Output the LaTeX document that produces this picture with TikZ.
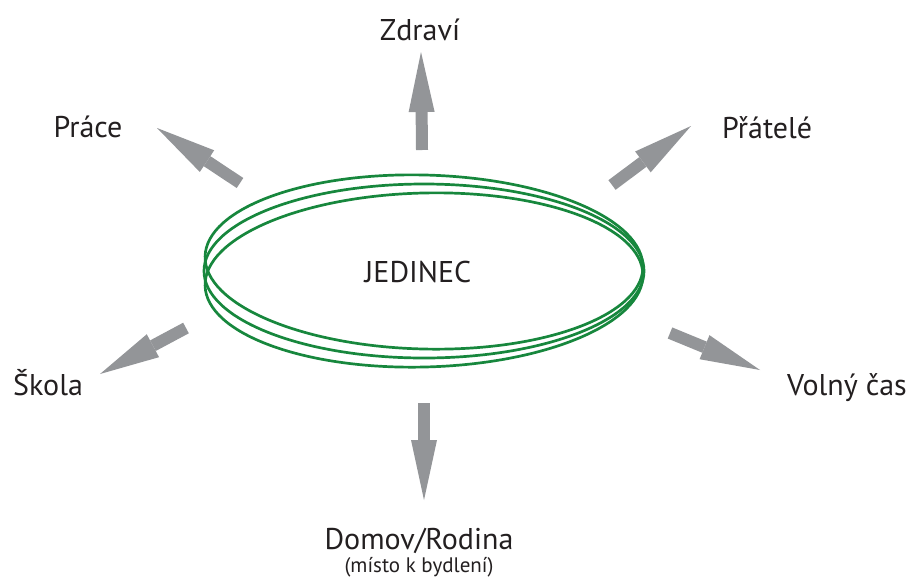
\documentclass[tikz,border=0pt]{standalone}
\usepackage{fontspec}
\setmainfont{PT Sans}
\usetikzlibrary{arrows.meta}
\definecolor{arrgray}{HTML}{939598}
\definecolor{ringgreen}{HTML}{17873D}
\definecolor{txt}{HTML}{231F20}
\tikzset{
  bigarrow/.style={draw=arrgray, line width=12pt, line cap=butt,
    -{Triangle[length=60pt,width=26pt,line width=0pt,fill=arrgray]}},
  ring/.style={draw=ringgreen, line width=2.7pt},
  lbl/.style={text=txt, font=\fontsize{30}{32}\selectfont, inner sep=0pt},
  sublbl/.style={text=txt, font=\fontsize{21}{23}\selectfont, inner sep=0pt}
}
\begin{document}
\begin{tikzpicture}[x=1pt,y=-1pt]
\useasboundingbox (0,0) rectangle (909,576);
% rings
\draw[ring, rotate around={-1.5:(424,262)}] (424,262) ellipse [x radius=219, y radius=87];
\draw[ring] (424,271) ellipse [x radius=220, y radius=87];
\draw[ring, rotate around={1.5:(424,280)}] (424,280) ellipse [x radius=219, y radius=87];
\node[lbl, anchor=base] (jed) at (418,282) {JEDINEC};
% arrow coordinates
\coordinate (zT) at (422,150); \coordinate (zH) at (421,52);
\coordinate (pT) at (612,185); \coordinate (pH) at (691,126);
\coordinate (wT) at (240,183); \coordinate (wH) at (157,128);
\coordinate (sT) at (186,328); \coordinate (sH) at (100,374);
\coordinate (vT) at (670,333); \coordinate (vH) at (760,370);
\coordinate (dT) at (424,403); \coordinate (dH) at (424,500);
\draw[bigarrow] (zT) -- (zH);
\draw[bigarrow] (pT) -- (pH);
\draw[bigarrow] (wT) -- (wH);
\draw[bigarrow] (sT) -- (sH);
\draw[bigarrow] (vT) -- (vH);
\draw[bigarrow] (dT) -- (dH);
% labels
\node[lbl, anchor=base] (zdr) at (420,40) {Zdraví};
\node[lbl, anchor=base] (pra) at (88,137) {Práce};
\node[lbl, anchor=base west] (prt) at (722,138) {Přátelé};
\node[lbl, anchor=base west] (sko) at (13,395) {Škola};
\node[lbl, anchor=base east] (vol) at (907,395) {Volný čas};
\node[lbl, anchor=base] (dom) at (419,549) {Domov/Rodina};
\node[sublbl, anchor=base] (mis) at (419,572) {(místo k bydlení)};
\end{tikzpicture}
\end{document}
